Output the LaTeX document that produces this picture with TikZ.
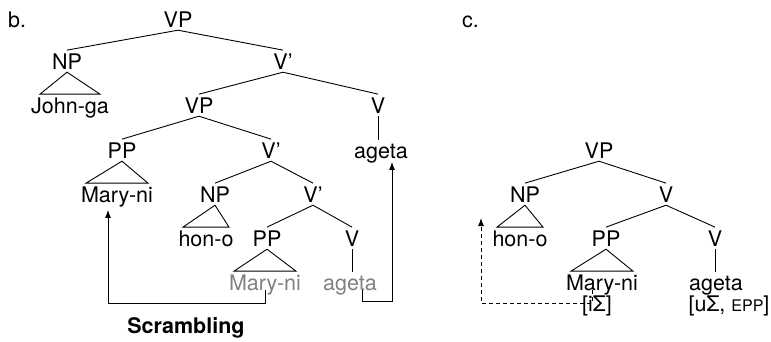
\documentclass[tikz,border=0pt]{standalone}
\usepackage{fontspec}
\setmainfont{TeX Gyre Heros}
\usetikzlibrary{arrows.meta}

% triangle over a phrase: parent, phrase, half width of the base
\newcommand\drawroof[3]{\draw[roof] (#1.south) -- ([xshift=-#3pt]#2.north)
  -- ([xshift=#3pt]#2.north) -- cycle;}

\begin{document}
\begin{tikzpicture}[
  x=1pt, y=-1pt,
  cat/.style={anchor=base, inner sep=3pt, font=\fontsize{21.5}{25}\selectfont},
  trace/.style={cat, text=gray},
  branch/.style={line width=0.9pt},
  roof/.style={line width=0.9pt},
  move/.style={-{Latex[length=8pt,width=6pt]}, line width=1pt},
  hmove/.style={move, dash pattern=on 4pt off 3pt}
]
\useasboundingbox (0,0) rectangle (771,341);

% panel b
\node[cat, anchor=base west] (labb) at (5,27) {b.};
\node[cat] (vp1)    at (178,27)  {VP};
\node[cat] (np1)    at (67,69)   {NP};
\node[cat] (vbar1)  at (283,69)  {V'};
\node[cat] (john)   at (70,113)  {John-ga};
\node[cat] (vp2)    at (199,113) {VP};
\node[cat] (v1)     at (378,113) {V};
\node[cat] (pp1)    at (122,158) {PP};
\node[cat] (vbar2)  at (271,158) {V'};
\node[cat] (ageta1) at (381,158) {ageta};
\node[cat] (mary1)  at (117,202) {Mary-ni};
\node[cat] (np2)    at (215,202) {NP};
\node[cat] (vbar3)  at (313,202) {V'};
\node[cat] (hon1)   at (206,246) {hon-o};
\node[cat] (pp2)    at (267,246) {PP};
\node[cat] (v2)     at (352,246) {V};
\node[trace] (mary2)  at (265,290) {Mary-ni};
\node[trace] (ageta2) at (350,290) {ageta};
\node[cat] (scramb) at (186,333) {\textbf{Scrambling}};

\draw[branch] (vp1.south) -- (np1.north);
\draw[branch] (vp1.south) -- (vbar1.north);
\draw[branch] (vbar1.south) -- (vp2.north);
\draw[branch] (vbar1.south) -- (v1.north);
\draw[branch] (v1.south) -- (v1.south |- ageta1.north);
\draw[branch] (vp2.south) -- (pp1.north);
\draw[branch] (vp2.south) -- (vbar2.north);
\draw[branch] (vbar2.south) -- (np2.north);
\draw[branch] (vbar2.south) -- (vbar3.north);
\draw[branch] (vbar3.south) -- (pp2.north);
\draw[branch] (vbar3.south) -- (v2.north);
\draw[branch] (v2.south) -- (v2.south |- ageta2.north);
\drawroof{np1}{john}{30}
\drawroof{pp1}{mary1}{31}
\drawroof{np2}{hon1}{23}
\drawroof{pp2}{mary2}{31}

\draw[move] (mary2.base) -- ++(0,13) -| ([xshift=-9pt]mary1.south);
\draw[move] ([xshift=12pt]ageta2.base) -- ++(0,11)
  -| ([xshift=11pt,yshift=4pt]ageta1.south);

% panel c
\node[cat, anchor=base west] (labc) at (459,27) {c.};
\node[cat] (vp3)    at (599,158) {VP};
\node[cat] (np3)    at (525,202) {NP};
\node[cat] (v3)     at (666,202) {V};
\node[cat] (hon2)   at (520,246) {hon-o};
\node[cat] (pp3)    at (606,246) {PP};
\node[cat] (v4)     at (715,246) {V};
\node[cat] (mary3)  at (602,290) {Mary-ni};
\node[cat] (ageta3) at (716,290) {ageta};
\node[cat] (feat1)  at (597,311) {[iΣ]};
\node[cat] (feat2)  at (729,311) {[uΣ, {\fontsize{16}{16}\selectfont EPP}]};
\coordinate (landing) at (481,218);

\draw[branch] (vp3.south) -- (np3.north);
\draw[branch] (vp3.south) -- (v3.north);
\draw[branch] (v3.south) -- (pp3.north);
\draw[branch] (v3.south) -- (v4.north);
\draw[branch] (v4.south) -- (v4.south |- ageta3.north);
\drawroof{np3}{hon2}{23}
\drawroof{pp3}{mary3}{31}

\draw[hmove] ([xshift=-10pt]mary3.base) -- ++(0,13) -| (landing);
\end{tikzpicture}
\end{document}
